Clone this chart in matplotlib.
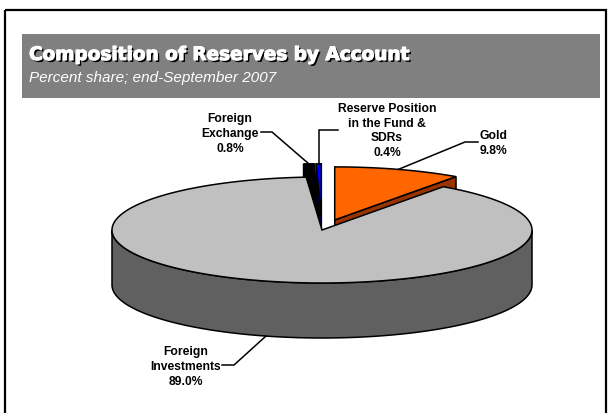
import numpy as np
import matplotlib.pyplot as plt
from matplotlib.patches import Polygon, Rectangle
import matplotlib.patheffects as pe

plt.rcParams['font.family'] = ['Liberation Sans', 'DejaVu Sans']

# Reserves by account, percent share, end-September 2007
accounts = ['Foreign Investments', 'Foreign Exchange',
            'Reserve Position in the Fund & SDRs', 'Gold']
label_text = ['Foreign\nInvestments', 'Foreign\nExchange',
              'Reserve Position\nin the Fund &\nSDRs', 'Gold']
shares = [89.0, 0.8, 0.4, 9.8]

top_colors = ['#C0C0C0', '#000000', '#0000FF', '#FF6600']
side_colors = ['#606060', '#000000', '#000080', '#993300']
explode = [0.0, 0.25, 0.25, 0.2]

# pie geometry in pixel units (y grows downwards)
cx, cy = 322, 231
rx, ry = 210, 53
depth = 55

fig = plt.figure(figsize=(6.12, 4.14), dpi=100)
ax = fig.add_axes([0, 0, 1, 1])
ax.set_xlim(0, 612)
ax.set_ylim(414, 0)
ax.axis('off')

# frame and title band
ax.add_patch(Rectangle((5, 11), 601, 420, fill=False, edgecolor='black', lw=1.6))
ax.add_patch(Rectangle((22, 35), 578, 64, facecolor='#808080', edgecolor='none'))
ax.text(29, 56, 'Composition of Reserves by Account', color='white',
        fontsize=13.3, fontweight='bold', family='DejaVu Sans', va='center', ha='left',
        path_effects=[pe.SimplePatchShadow(offset=(1.4, -1.4), shadow_rgbFace='black', alpha=1),
                      pe.Stroke(linewidth=0.8, foreground='white'), pe.Normal()])
ax.text(29, 78, 'Percent share; end-September 2007', color='white',
        fontsize=11, style='italic', va='center', ha='left')


def pt(t, ox, oy, dz=0.0):
    r = np.radians(t)
    return cx + ox + rx * np.cos(r), cy + oy - ry * np.sin(r) + dz


# slice angles: clockwise, gold ending at 12 o'clock
start = 90 - 3.6 * shares[-1]
slices = []
t1 = start
for i, s in enumerate(shares):
    t2 = t1 - 3.6 * s
    mid = (t1 + t2) / 2
    ox = explode[i] * rx * np.cos(np.radians(mid))
    oy = -explode[i] * ry * np.sin(np.radians(mid))
    slices.append((t1, t2, mid, ox, oy))
    t1 = t2

sides = []
tops = []
for i, (a1, a2, mid, ox, oy) in enumerate(slices):
    apex = (cx + ox, cy + oy)
    apex_b = (cx + ox, cy + oy + depth)
    # radial faces turned towards the viewer
    for t, vis in ((a2, np.cos(np.radians(a2)) > 1e-6),
                   (a1, np.cos(np.radians(a1)) < -1e-6)):
        if vis:
            sides.append(Polygon([apex, pt(t, ox, oy), pt(t, ox, oy, depth), apex_b],
                                 closed=True, facecolor=side_colors[i],
                                 edgecolor='black', lw=1.1))
    # outer wall on the front half
    for k in range(-2, 2):
        lo = max(a2, 180 + 360 * k)
        hi = min(a1, 360 + 360 * k)
        if hi > lo:
            ts = np.linspace(lo, hi, 120)
            upper = [pt(t, ox, oy) for t in ts]
            lower = [pt(t, ox, oy, depth) for t in ts[::-1]]
            sides.append(Polygon(upper + lower, closed=True,
                                 facecolor=side_colors[i], edgecolor='black', lw=1.1))
    ts = np.linspace(a2, a1, max(int((a1 - a2) * 2), 4))
    tops.append(Polygon([apex] + [pt(t, ox, oy) for t in ts], closed=True,
                        facecolor=top_colors[i], edgecolor='black', lw=1.1))

for p in sides + tops:
    ax.add_patch(p)

# data labels with leader lines
label_pos = [(186, 367), (230, 134), (387, 131), (493, 143.5)]
elbow = [((222, 366), (234, 366)), ((261, 133), (272, 133)),
         ((338, 131), None), ((478, 143), (465, 143))]
for i, (a1, a2, mid, ox, oy) in enumerate(slices):
    if i == 0:
        anchor = pt(mid, ox, oy, depth)
    else:
        anchor = pt(mid, ox, oy)
    p0, p1 = elbow[i]
    if p1 is None:
        p1 = (anchor[0], p0[1])
    ax.plot([p0[0], p1[0], anchor[0]], [p0[1], p1[1], anchor[1]],
            color='black', lw=1.1, solid_joinstyle='miter')
    x, y = label_pos[i]
    ax.text(x, y, '%s\n%.1f%%' % (label_text[i], shares[i]), ha='center', va='center',
            fontsize=8.7, fontweight='bold', linespacing=1.3)

fig.savefig('out.png', dpi=100)
